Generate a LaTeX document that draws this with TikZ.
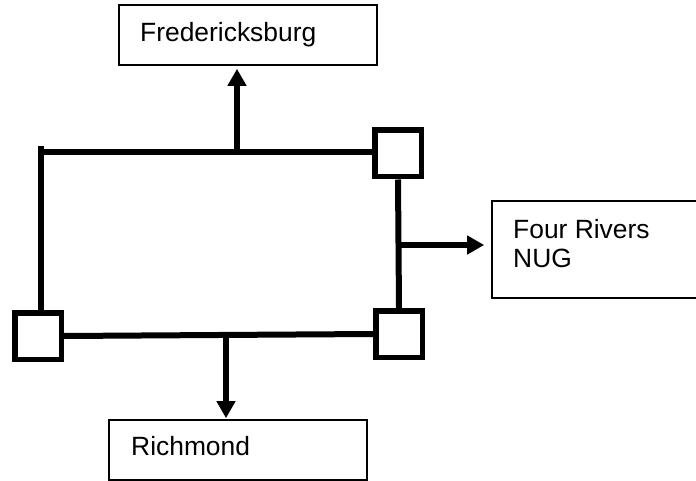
\documentclass[tikz,border=0pt]{standalone}
\usepackage{fontspec}
\setmainfont{Liberation Sans}
\usetikzlibrary{arrows.meta}
\begin{document}
\begin{tikzpicture}[x=1pt,y=1pt,
  labelbox/.style={draw=black,line width=1.6pt,inner sep=0pt,fill=white},
  busnode/.style={draw=black,line width=5.5pt,minimum size=46.5pt,inner sep=0pt,fill=white},
  busline/.style={line width=6pt},
  feed/.style={line width=6pt,-{Triangle[length=17pt,width=18pt]}},
  lbl/.style={inner sep=0pt,font=\fontsize{26.4}{29}\selectfont,align=left}]
\useasboundingbox (0,0) rectangle (696,-481);
% label boxes
\node[labelbox,minimum width=258pt,minimum height=60pt] (fred) at (248,-35) {};
\node[labelbox,minimum width=258pt,minimum height=60pt] (rich) at (238,-450) {};
\node[labelbox,minimum width=206pt,minimum height=97pt] (four) at (595,-249.5) {};
\node[lbl,anchor=base west] (fredtxt) at (140,-42) {Fredericksburg};
\node[lbl,anchor=base west] (richtxt) at (131,-455) {Richmond};
\node[lbl,anchor=north west] (fourtxt) at (513,-219) {Four Rivers\\NUG};
% bus squares
\node[busnode] (TR) at (398,-153.5) {};
\node[busnode] (BR) at (399,-334) {};
\node[busnode] (BL) at (38,-336) {};
% bus lines
\coordinate (lt) at (41,-146);
\coordinate (tl) at (41,-152);
\coordinate (bh) at (64,-334);
\draw[busline] (lt) -- (lt |- BL.north);
\draw[busline] (tl) -- (tl -| TR.west);
\draw[busline] (TR.south) -- (BR.north);
\draw[busline] (BL.east) -- (BR.west);
% feeders
\coordinate (ua) at (237,-152);
\coordinate (ra) at (399,-245);
\coordinate (da) at (226,-334);
\draw[feed,shorten >=3pt] (ua) -- (ua |- fred.south);
\draw[feed,shorten >=7pt] (ra) -- (ra -| four.west);
\draw[feed,shorten >=1pt] (da) -- (da |- rich.north);
\end{tikzpicture}
\end{document}
